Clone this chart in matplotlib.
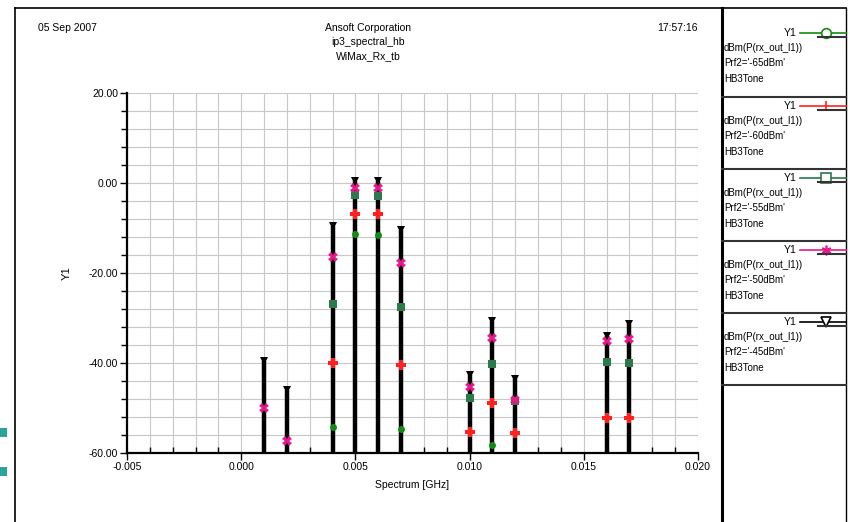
import numpy as np
import matplotlib
matplotlib.use('Agg')
import matplotlib.pyplot as plt
from matplotlib.lines import Line2D
from matplotlib.patches import Rectangle
from matplotlib.ticker import MultipleLocator, FormatStrFormatter

plt.rcParams['font.family'] = ['Liberation Sans', 'DejaVu Sans']

# spectral lines (GHz) and power per input level (dBm), nan = below the axis
freq = [0.001, 0.002, 0.004, 0.005, 0.006, 0.007, 0.010, 0.011, 0.012, 0.016, 0.017]
nan = np.nan
p65 = [nan, nan, -54.2, -11.3, -11.6, -54.7, nan, -58.2, nan, nan, nan]
p60 = [nan, nan, -40.0, -6.9, -6.9, -40.4, -55.3, -48.9, -55.6, -52.2, -52.2]
p55 = [nan, nan, -26.9, -2.7, -2.9, -27.6, -47.8, -40.2, -48.4, -39.8, -40.0]
p50 = [-50.0, -57.3, -16.4, -1.0, -1.0, -17.8, -45.3, -34.4, -48.2, -35.1, -34.7]
p45 = [-39.6, -46.0, -9.6, 0.4, 0.4, -10.4, -42.7, -30.7, -43.6, -34.0, -31.3]

series = [
    ("Prf2='-65dBm'", p65, '#138a13', 'o'),
    ("Prf2='-60dBm'", p60, '#ff2020', 'P'),
    ("Prf2='-55dBm'", p55, '#2a7a4a', 's'),
    ("Prf2='-50dBm'", p50, '#e8188c', 'X'),
    ("Prf2='-45dBm'", p45, '#000000', 'v'),
]
legend_marker = {'o': 'o', 'P': '|', 's': 's', 'X': (6, 2, 0), 'v': 'v'}

W, H = 850, 522
fig = plt.figure(figsize=(8.5, 5.22), dpi=100)

def fx(x):
    return x / W

def fy(y):
    return 1 - y / H

ax = fig.add_axes([fx(127), fy(453), 571 / W, 360 / H])
ax.set_xlim(-0.005, 0.020)
ax.set_ylim(-60, 20)

# stems: the -45 dBm trace is the highest everywhere and hides the others
for i, (lab, vals, col, mk) in enumerate(series):
    v = np.array(vals)
    ok = ~np.isnan(v)
    f = np.array(freq)[ok]
    ax.vlines(f, -60, v[ok], color=col, lw=3.2 if col == '#000000' else 1.5,
              zorder=2 + i * 0.1)
for i, (lab, vals, col, mk) in enumerate(series):
    ms = {'o': 5, 'P': 6.5, 's': 6, 'X': 7, 'v': 5.5}[mk]
    ax.plot(freq, vals, ls='none', marker=mk, color=col, ms=ms, mew=0, zorder=4 + i * 0.1)

ax.xaxis.set_major_locator(MultipleLocator(0.005))
ax.xaxis.set_minor_locator(MultipleLocator(0.001))
ax.yaxis.set_major_locator(MultipleLocator(20))
ax.yaxis.set_minor_locator(MultipleLocator(4))
ax.xaxis.set_major_formatter(FormatStrFormatter('%.3f'))
ax.yaxis.set_major_formatter(FormatStrFormatter('%.2f'))
ax.grid(True, which='both', color='#c8c8c8', lw=0.8, zorder=0)
ax.set_axisbelow(True)
for s in ['top', 'right']:
    ax.spines[s].set_visible(False)
for s in ['left', 'bottom']:
    ax.spines[s].set_linewidth(1.6)
    ax.spines[s].set_zorder(6)
ax.tick_params(which='major', direction='out', length=5, width=1, labelsize=7.5, pad=1.5)
ax.tick_params(axis='x', which='minor', direction='in', length=4, width=1)
ax.tick_params(axis='y', which='minor', direction='out', length=4, width=1)
ax.set_xlabel('Spectrum [GHz]', fontsize=7.5, labelpad=6)
ax.set_ylabel('Y1', fontsize=8, labelpad=12)

# header texts
fig.text(fx(38), fy(28), '05 Sep 2007', fontsize=7.5, va='center', ha='left')
fig.text(fx(368), fy(28), 'Ansoft Corporation', fontsize=7.5, va='center', ha='center')
fig.text(fx(368), fy(42), 'ip3_spectral_hb', fontsize=7.5, va='center', ha='center')
fig.text(fx(368), fy(56), 'WiMax_Rx_tb', fontsize=7.5, va='center', ha='center')
fig.text(fx(698), fy(28), '17:57:16', fontsize=7.5, va='center', ha='right')

# outer frame
fig.add_artist(Line2D([fx(15), fx(846)], [fy(8), fy(8)], color='black', lw=1.2))
fig.add_artist(Line2D([fx(15), fx(15)], [fy(8), fy(530)], color='black', lw=1.2))
fig.add_artist(Line2D([fx(722), fx(722)], [fy(8), fy(530)], color='black', lw=2.2))
fig.add_artist(Line2D([fx(846), fx(846)], [fy(8), fy(530)], color='black', lw=1.0))

# legend panel
for i, (lab, vals, col, mk) in enumerate(series):
    y1 = 33 if i == 0 else 106 + (i - 1) * 72
    fig.text(fx(797), fy(y1), 'Y1', fontsize=7.5, ha='right', va='center')
    fig.add_artist(Line2D([fx(800), fx(846)], [fy(y1), fy(y1)], color=col, lw=1.2))
    fig.add_artist(Line2D([fx(826)], [fy(y1)], marker=legend_marker[mk], ms=7,
                          mfc='white', mec=col, mew=1.2, color=col))
    fig.add_artist(Line2D([fx(818), fx(846)], [fy(y1 + 4), fy(y1 + 4)], color='#333333', lw=1.5))
    fig.text(fx(724), fy(y1 + 15), 'dBm(P(rx_out_l1))', fontsize=7, ha='left', va='center')
    fig.text(fx(724), fy(y1 + 30), lab, fontsize=7, ha='left', va='center')
    fig.text(fx(724), fy(y1 + 46), 'HB3Tone', fontsize=7, ha='left', va='center')
    ysep = 97 + i * 72
    fig.add_artist(Line2D([fx(722), fx(846)], [fy(ysep), fy(ysep)], color='#333333', lw=1.5))

# teal bits at the left edge
for yb in [428, 467]:
    fig.add_artist(Rectangle((0, fy(yb + 9)), fx(7), 9 / H, color='#2aa39a', lw=0))

fig.savefig('out.png', dpi=100)
